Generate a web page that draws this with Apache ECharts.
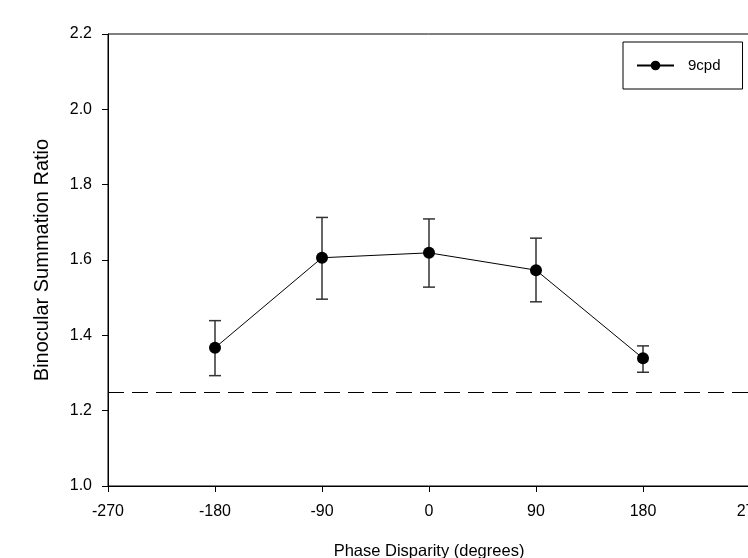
<!DOCTYPE html>
<html>
<head>
<meta charset="utf-8">
<script src="https://cdn.jsdelivr.net/npm/echarts@6/dist/echarts.min.js"></script>
<style>
  html, body { margin: 0; padding: 0; background: #fff; }
  #chart { width: 748px; height: 558px; }
</style>
</head>
<body>
<div id="chart"></div>
<script>
// phase disparity (degrees)
const phases = [-180, -90, 0, 90, 180]
// 9cpd binocular summation ratio, with error bar ends
const ratio = [1.367, 1.606, 1.619, 1.573, 1.339]
const errLow = [1.293, 1.496, 1.528, 1.489, 1.302]
const errHigh = [1.439, 1.713, 1.709, 1.658, 1.372]
const baseline = 1.25

const xTicks = [-270, -180, -90, 0, 90, 180, 270]
const yTicks = [1.0, 1.2, 1.4, 1.6, 1.8, 2.0, 2.2]

const chart = echarts.init(document.getElementById('chart'))
const font = 'Liberation Sans, Arial, sans-serif'

const option = {
  animation: false,
  grid: {
    left: 108, right: -2, top: 34, bottom: 72,
    outerBoundsMode: 'none',
    containLabel: false,
    show: true, borderColor: '#000', borderWidth: 1
  },
  legend: {
    left: 623, top: 42,
    data: ['9cpd'],
    borderColor: '#000', borderWidth: 1, borderRadius: 0,
    padding: [16, 22, 16, 13],
    itemWidth: 37, itemHeight: 12, itemGap: 0,
    textStyle: { fontFamily: font, fontSize: 15, color: '#000', padding: [0, 0, 0, 9] }
  },
  xAxis: {
    type: 'value',
    min: xTicks[0], max: xTicks[xTicks.length - 1], interval: 90,
    name: 'Phase Disparity (degrees)',
    nameLocation: 'middle', nameGap: 57,
    nameTextStyle: { fontFamily: font, fontSize: 16.5, color: '#000' },
    axisLine: { onZero: false, lineStyle: { color: '#000', width: 1 } },
    axisTick: { length: 6, lineStyle: { color: '#000' } },
    axisLabel: { margin: 18, fontFamily: font, fontSize: 16, color: '#000' },
    splitLine: { show: false }
  },
  yAxis: {
    type: 'value',
    min: yTicks[0], max: yTicks[yTicks.length - 1], interval: 0.2,
    name: 'Binocular Summation Ratio',
    nameLocation: 'middle', nameGap: 56,
    nameTextStyle: { fontFamily: font, fontSize: 20, color: '#000' },
    axisLine: { show: true, onZero: false, lineStyle: { color: '#000', width: 1 } },
    axisTick: { show: true, length: 6, lineStyle: { color: '#000' } },
    axisLabel: {
      margin: 16, fontFamily: font, fontSize: 16, color: '#000',
      formatter: v => v.toFixed(1)
    },
    splitLine: { show: false }
  },
  series: [
    {
      type: 'custom',
      name: 'err',
      silent: true,
      z: 1,
      data: phases.map((p, i) => [p, errLow[i], errHigh[i]]),
      renderItem: (params, api) => {
        const lo = api.coord([api.value(0), api.value(1)])
        const hi = api.coord([api.value(0), api.value(2)])
        const w = 6
        const style = { stroke: '#333', lineWidth: 1.5 }
        return {
          type: 'group',
          children: [
            { type: 'line', shape: { x1: lo[0], y1: lo[1], x2: hi[0], y2: hi[1] }, style },
            { type: 'line', shape: { x1: lo[0] - w, y1: lo[1], x2: lo[0] + w, y2: lo[1] }, style },
            { type: 'line', shape: { x1: hi[0] - w, y1: hi[1], x2: hi[0] + w, y2: hi[1] }, style }
          ]
        }
      }
    },
    {
      type: 'line',
      name: '9cpd',
      z: 3,
      data: phases.map((p, i) => [p, ratio[i]]),
      symbol: 'circle',
      symbolSize: 12,
      lineStyle: { color: '#000', width: 1 },
      itemStyle: { color: '#000' },
      markLine: {
        silent: true,
        symbol: 'none',
        label: { show: false },
        lineStyle: { color: '#000', width: 1, type: [16, 8] },
        data: [{ yAxis: baseline }]
      }
    }
  ]
}

chart.setOption(option)
</script>
</body>
</html>
